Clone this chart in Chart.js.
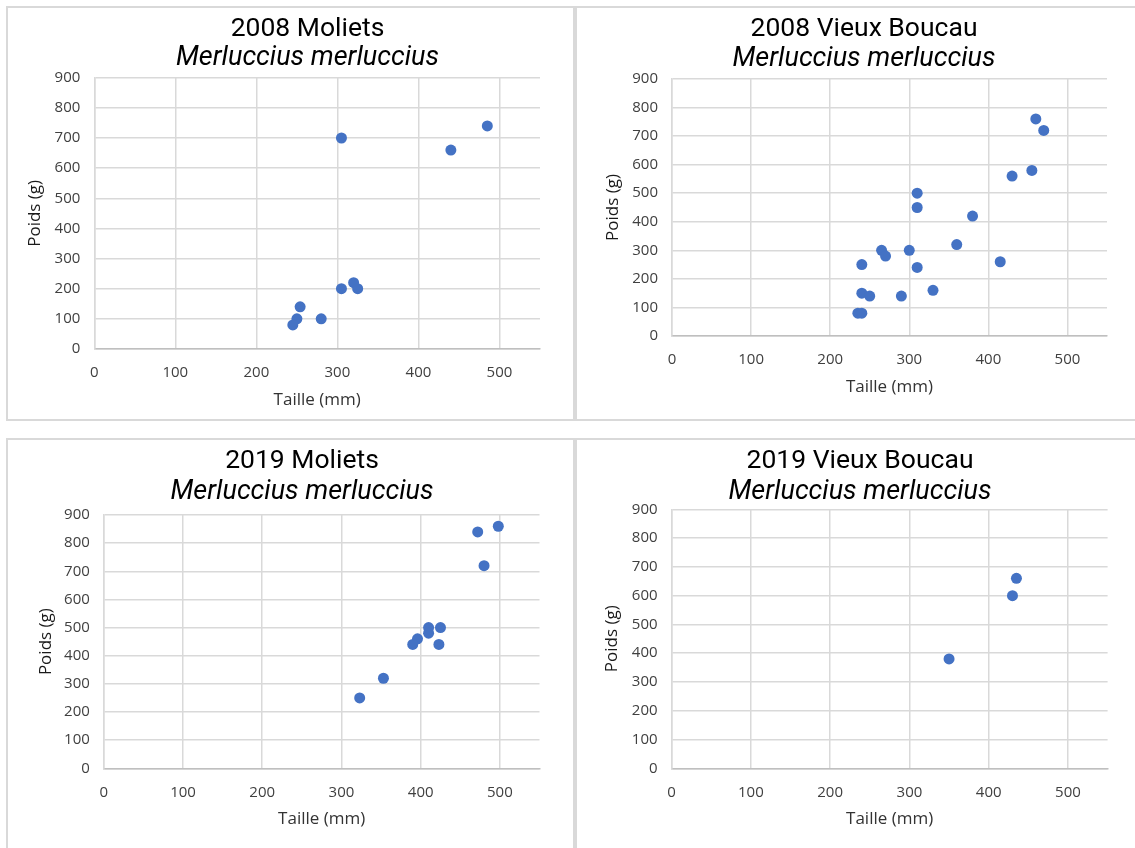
<!DOCTYPE html>
<html lang="fr">
<head>
<meta charset="utf-8">
<title>Merluccius merluccius – Taille / Poids</title>
<script src="https://cdn.jsdelivr.net/npm/chart.js@4.4.1/dist/chart.umd.min.js"></script>
<style>
  html, body { margin: 0; padding: 0; background: #fff; overflow: hidden; width: 1135px; height: 848px; }
  .panel { position: absolute; border: 2px solid #d9d9d9; background: #fff; }
  .panel canvas { display: block; }
</style>
</head>
<body>
<div class="panel" style="left:6px;top:6px;"><canvas id="c1" width="565" height="411"></canvas></div>
<div class="panel" style="left:575px;top:6px;"><canvas id="c2" width="565" height="411"></canvas></div>
<div class="panel" style="left:6px;top:438px;"><canvas id="c3" width="565" height="411"></canvas></div>
<div class="panel" style="left:575px;top:438px;"><canvas id="c4" width="565" height="411"></canvas></div>
<script>
// Taille (mm) / Poids (g) par station et par année
const espece = 'Merluccius merluccius';

const moliets2008Taille = [305, 485, 440, 254, 250, 245, 280, 305, 320, 325];
const moliets2008Poids  = [700, 740, 660, 140, 100,  80, 100, 200, 220, 200];

const vieuxBoucau2008Taille = [460, 470, 455, 430, 310, 310, 380, 360, 415, 265, 270, 300, 310, 240, 240, 250, 290, 330, 235, 240];
const vieuxBoucau2008Poids  = [760, 720, 580, 560, 500, 450, 420, 320, 260, 300, 280, 300, 240, 250, 150, 140, 140, 160,  80,  80];

const moliets2019Taille = [498, 472, 480, 410, 425, 410, 396, 390, 423, 353, 323];
const moliets2019Poids  = [860, 840, 720, 500, 500, 480, 460, 440, 440, 320, 250];

const vieuxBoucau2019Taille = [435, 430, 350];
const vieuxBoucau2019Poids  = [660, 600, 380];

const xTicksMax = 550, xStep = 100;
const yTicksMax = 900, yStep = 100;

// Placement of each plot inside its canvas (pixels)
const CW = 565, CH = 411;
const TITLE_LH = 30;
const AXIS_TITLE_SIZE = 17, AXIS_TITLE_LH = AXIS_TITLE_SIZE * 1.2;

// Slides the title and subtitle boxes sideways so they sit where wanted,
// independently of the space reserved for the y axis.
const decalageTitres = {
  id: 'decalageTitres',
  afterLayout(chart, args, opts) {
    const dx = opts.dx || 0;
    chart.boxes.forEach(b => {
      if (b.position === 'top' && b.options && 'text' in b.options) {
        b.left += dx;
        b.right += dx;
      }
    });
  }
};

function makeChart(id, titre, taille, poids, g) {
  const padRight = CW - g.right;
  const xHeight = CH - g.bottom;
  const dx = g.titleX - g.right / 2;
  const points = taille.map((t, i) => ({ x: t, y: poids[i] }));

  return new Chart(document.getElementById(id), {
    type: 'scatter',
    data: {
      datasets: [{
        label: titre,
        data: points,
        backgroundColor: '#4472C4',
        borderColor: '#4472C4',
        borderWidth: 0,
        pointRadius: 5.5,
        pointHoverRadius: 5.5
      }]
    },
    plugins: [decalageTitres],
    options: {
      responsive: false,
      animation: false,
      events: [],
      layout: { padding: { left: 0, right: padRight, top: 0, bottom: 0 } },
      plugins: {
        legend: { display: false },
        tooltip: { enabled: false },
        decalageTitres: { dx },
        title: {
          display: true,
          text: titre,
          color: '#000',
          font: { family: 'Roboto', size: 26.5, weight: 'normal', lineHeight: TITLE_LH / 26.5 },
          padding: { top: g.titleY - TITLE_LH / 2, bottom: 0 }
        },
        subtitle: {
          display: true,
          text: espece,
          color: '#000',
          font: { family: 'Roboto', size: 27, style: 'italic', weight: 'normal', lineHeight: TITLE_LH / 27 },
          padding: { top: g.subY - g.titleY - TITLE_LH, bottom: g.top - (g.subY + TITLE_LH / 2) }
        }
      },
      scales: {
        x: {
          type: 'linear',
          min: 0,
          max: xTicksMax,
          afterFit: s => { s.height = xHeight; },
          ticks: {
            stepSize: xStep,
            includeBounds: false,
            padding: 15,
            color: '#404040',
            font: { family: 'Open Sans', size: 15 }
          },
          grid: { color: '#d9d9d9', lineWidth: 1.5, drawTicks: false },
          border: { display: true, color: '#bfbfbf', width: 1.5 },
          title: {
            display: true,
            text: 'Taille (mm)',
            color: '#333',
            font: { family: 'Open Sans', size: AXIS_TITLE_SIZE },
            padding: { top: 0, bottom: CH - g.xTitleY - AXIS_TITLE_LH / 2 }
          }
        },
        y: {
          type: 'linear',
          min: 0,
          max: yTicksMax,
          afterFit: s => { s.width = g.left; },
          ticks: {
            stepSize: yStep,
            padding: 14,
            color: '#404040',
            font: { family: 'Open Sans', size: 15 }
          },
          grid: { color: '#d9d9d9', lineWidth: 1.5, drawTicks: false },
          border: { display: true, color: '#d9d9d9', width: 1.5 },
          title: {
            display: true,
            text: 'Poids (g)',
            color: '#1a1a1a',
            font: { family: 'Open Sans', size: AXIS_TITLE_SIZE },
            padding: { top: g.yTitleX - AXIS_TITLE_LH / 2, bottom: 0 }
          }
        }
      }
    }
  });
}

makeChart('c1', '2008 Moliets', moliets2008Taille, moliets2008Poids,
  { left: 86.3, right: 532, top: 69.7, bottom: 341, titleX: 299.5, titleY: 21, subY: 50.5, xTitleY: 392, yTitleX: 26.8 });
makeChart('c2', '2008 Vieux Boucau', vieuxBoucau2008Taille, vieuxBoucau2008Poids,
  { left: 95, right: 530, top: 71, bottom: 328, titleX: 287, titleY: 21.5, subY: 51, xTitleY: 379.3, yTitleX: 36.2 });
makeChart('c3', '2019 Moliets', moliets2019Taille, moliets2019Poids,
  { left: 95.8, right: 531.5, top: 75, bottom: 328.3, titleX: 294, titleY: 21, subY: 52, xTitleY: 379.3, yTitleX: 37.8 });
makeChart('c4', '2019 Vieux Boucau', vieuxBoucau2019Taille, vieuxBoucau2019Poids,
  { left: 94.6, right: 530.6, top: 69.3, bottom: 328.3, titleX: 283, titleY: 21, subY: 52, xTitleY: 379.3, yTitleX: 35.5 });
</script>
</body>
</html>
